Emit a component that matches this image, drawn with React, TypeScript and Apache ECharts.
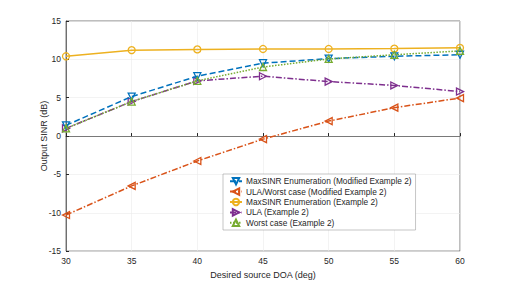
import React, { useEffect, useRef } from "react";
import * as echarts from "echarts";

const doa = [30, 35, 40, 45, 50, 55, 60];
const maxsinrModified = [1.4, 5.15, 7.8, 9.5, 10.1, 10.4, 10.6];
const ulaWorstModified = [-10.3, -6.5, -3.25, -0.4, 1.95, 3.7, 4.95];
const maxsinrEx2 = [10.4, 11.2, 11.3, 11.35, 11.35, 11.4, 11.5];
const ulaEx2 = [1.0, 4.5, 7.2, 7.8, 7.1, 6.6, 5.8];
const worstEx2 = [1.0, 4.5, 7.2, 9.0, 10.05, 10.6, 11.1];
const seriesNames = [
  "MaxSINR Enumeration (Modified Example 2)",
  "ULA/Worst case (Modified Example 2)",
  "MaxSINR Enumeration (Example 2)",
  "ULA (Example 2)",
  "Worst case (Example 2)",
];

const FONT = "Liberation Sans, Arial, sans-serif";

export default function App() {
  const ref = useRef<HTMLDivElement>(null);
  useEffect(() => {
    if (!ref.current) return;
    const chart = echarts.init(ref.current, undefined, { renderer: "svg" });
    const mk = (
      name: string,
      data: number[],
      color: string,
      type: any,
      symbol: string,
      rotate: number,
      z: number
    ) => ({
      name,
      type: "line",
      data: doa.map((x, i) => [x, data[i]]),
      symbol,
      symbolSize: 7,
      symbolRotate: rotate,
      z,
      lineStyle: { color, width: 1.5, type },
      itemStyle: { color: "rgba(255,255,255,0)", borderColor: color, borderWidth: 1.3 },
    });
    chart.setOption({
      animation: false,
      textStyle: { fontFamily: FONT },
      grid: {
        left: 66,
        right: 49,
        top: 21,
        bottom: 32,
        show: true,
        borderColor: "#262626",
        borderWidth: 0.6,
        backgroundColor: "#fff",
      },
      xAxis: {
        type: "value",
        min: 30,
        max: 60,
        interval: 5,
        name: "Desired source DOA (deg)",
        nameLocation: "middle",
        nameGap: 17,
        nameTextStyle: { fontSize: 9, color: "#262626", fontFamily: FONT },
        axisLine: { lineStyle: { color: "#262626", width: 0.6 } },
        axisTick: { inside: true, length: 3, lineStyle: { color: "#262626" } },
        axisLabel: { fontSize: 8.5, color: "#262626", margin: 5 },
        splitLine: { show: true, lineStyle: { color: "#ebebeb", width: 0.6 } },
      },
      yAxis: {
        type: "value",
        min: -15,
        max: 15,
        interval: 5,
        name: "Output SINR (dB)",
        nameLocation: "middle",
        nameGap: 18,
        nameMoveOverlap: false,
        nameTextStyle: { fontSize: 9, color: "#262626", fontFamily: FONT },
        axisLine: { show: true, lineStyle: { color: "#262626", width: 0.6 } },
        axisTick: { show: true, inside: true, length: 3, lineStyle: { color: "#262626" } },
        axisLabel: { fontSize: 8.5, color: "#262626", margin: 5 },
        splitLine: { show: true, lineStyle: { color: "#ebebeb", width: 0.6 } },
      },
      legend: {
        orient: "vertical",
        left: 223,
        top: 174,
        itemWidth: 12,
        itemHeight: 8,
        itemGap: 2,
        padding: [3, 4, 3, 6],
        backgroundColor: "#fff",
        borderColor: "#a0a0a0",
        borderWidth: 0.6,
        borderRadius: 0,
        textStyle: { fontSize: 8.3, color: "#262626", fontFamily: FONT, padding: [0, 0, 0, -1] },
        data: seriesNames,
      },
      series: [
        mk(seriesNames[0], maxsinrModified, "#0072BD", [6, 3], "triangle", 180, 5),
        mk(seriesNames[1], ulaWorstModified, "#D95319", [6, 2, 1.5, 2], "triangle", 90, 4),
        mk(seriesNames[2], maxsinrEx2, "#EDB120", "solid", "circle", 0, 3),
        mk(seriesNames[3], ulaEx2, "#7E2F8E", [6, 2, 1.5, 2], "triangle", -90, 2),
        mk(seriesNames[4], worstEx2, "#77AC30", [1.5, 1.5], "triangle", 0, 6),
      ],
    });
    return () => chart.dispose();
  }, []);
  return <div ref={ref} style={{ width: 509, height: 284, position: "absolute", left: 0, top: 0 }} />;
}
